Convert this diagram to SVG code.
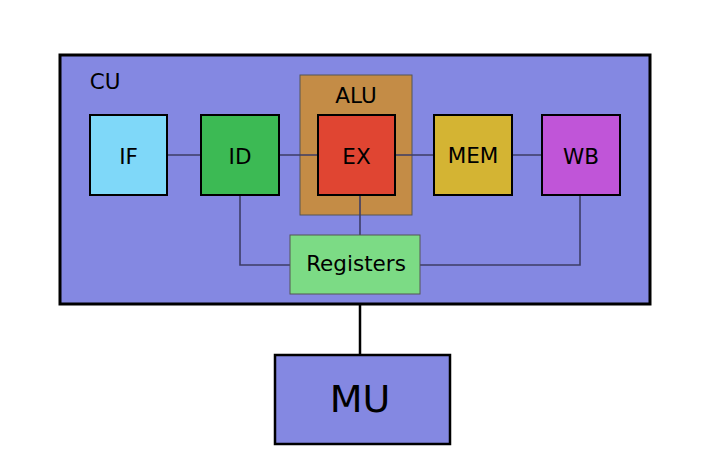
<svg xmlns="http://www.w3.org/2000/svg" width="702" height="455" viewBox="0 0 702 455">
<style>
text{font-family:"DejaVu Sans",sans-serif;fill:#000;text-anchor:middle;dominant-baseline:central}
.stage{stroke:#000;stroke-width:2}
.thin{stroke:#555;stroke-width:1}
.conn{stroke:#3d3d66;stroke-width:1.6;fill:none}
.t{font-size:21.5px}
</style>
<rect width="702" height="455" fill="#fff"/>
<g id="CU">
<rect x="60" y="55" width="590" height="249" fill="#8488e2" stroke="#000" stroke-width="3"/>
<text x="105" y="81" class="t">CU</text>
</g>
<g id="ALU">
<rect x="300" y="75" width="112" height="140" fill="#c48c46" class="thin"/>
<text x="356" y="95" class="t">ALU</text>
</g>
<g id="connectors">
<path class="conn" d="M167 155H201M279 155H318M395 155H434M512 155H542"/>
<path class="conn" d="M240 195V265H290"/>
<path class="conn" d="M360 195V235"/>
<path class="conn" d="M580 195V265H420"/>
<path d="M360 304V355" stroke="#000" stroke-width="2.5" fill="none"/>
</g>
<g id="IF">
<rect x="90" y="115" width="77" height="80" fill="#7fd8f9" class="stage"/>
<text x="128.5" y="156" class="t">IF</text>
</g>
<g id="ID">
<rect x="201" y="115" width="78" height="80" fill="#3cba54" class="stage"/>
<text x="240" y="156" class="t">ID</text>
</g>
<g id="EX">
<rect x="318" y="115" width="77" height="80" fill="#e04532" class="stage"/>
<text x="356.5" y="156" class="t">EX</text>
</g>
<g id="MEM">
<rect x="434" y="115" width="78" height="80" fill="#d4b433" class="stage"/>
<text x="473" y="155" class="t">MEM</text>
</g>
<g id="WB">
<rect x="542" y="115" width="78" height="80" fill="#c055d8" class="stage"/>
<text x="581" y="156" class="t">WB</text>
</g>
<g id="Registers">
<rect x="290" y="235" width="130" height="59" fill="#7cdb85" class="thin"/>
<text x="356" y="263" class="t">Registers</text>
</g>
<g id="MU">
<rect x="275" y="355" width="175" height="89" fill="#8488e2" stroke="#000" stroke-width="2.5"/>
<text x="360" y="399" style="font-size:38px">MU</text>
</g>
</svg>
